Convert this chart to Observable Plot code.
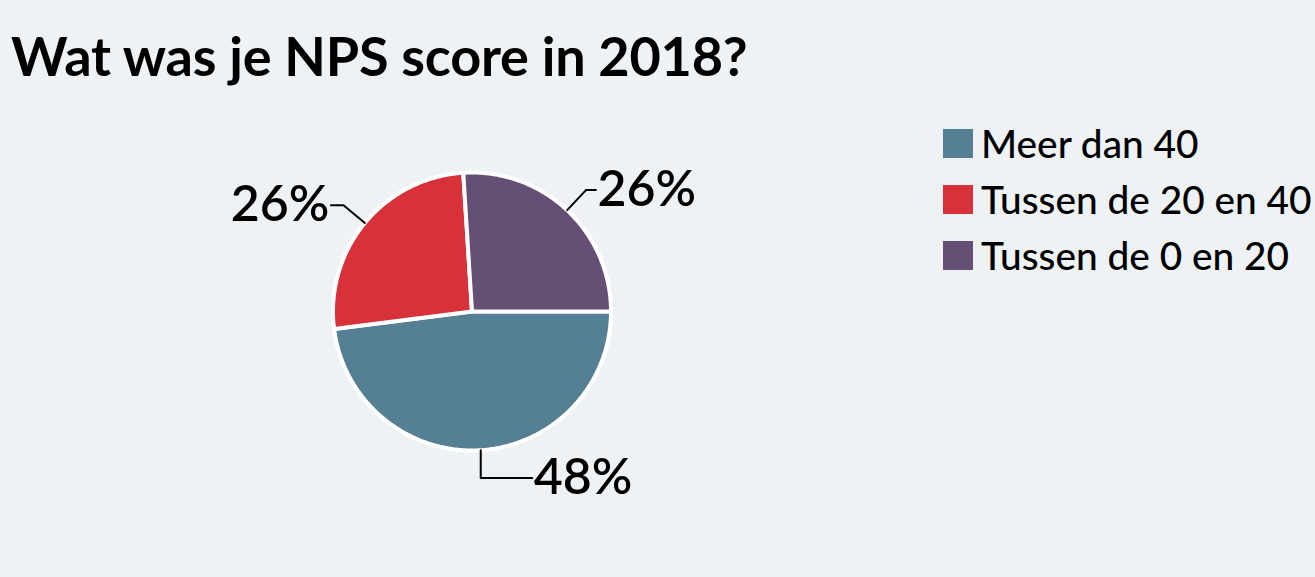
<!DOCTYPE html>
<html>
<head>
<meta charset="utf-8">
<script src="https://cdn.jsdelivr.net/npm/d3@7"></script>
<script src="https://cdn.jsdelivr.net/npm/@observablehq/plot@0.6"></script>
<style>
  html, body { margin: 0; padding: 0; background: #eef2f5; }
  body { width: 1315px; height: 577px; position: relative; overflow: hidden; font-family: Lato, sans-serif; }
  #title { position: absolute; left: 11px; top: 29px; margin: 0; font: bold 54px Lato, sans-serif; color: #000; line-height: 1; letter-spacing: -0.2px; }
  #chart { position: absolute; left: 0; top: 100px; }
  #legend { position: absolute; left: 943px; top: 115px; }
  .row { display: flex; align-items: center; height: 56px; font: 500 38.8px Lato, sans-serif; color: #000; }
  .sw { width: 30px; height: 29px; margin-right: 8px; flex: none; }
</style>
</head>
<body>
<h1 id="title">Wat was je NPS score in 2018?</h1>
<div id="chart"></div>
<div id="legend"></div>
<script>
// ---- data ----
const categories = ["Meer dan 40", "Tussen de 20 en 40", "Tussen de 0 en 20"];
const values = [48, 26, 26];
const colors = ["#557f92", "#d73139", "#654f75"];

// ---- layout (not data) ----
const cx = 471.5, cy = 211, r = 139;
const startAngle = Math.PI / 2;          // slices start at 3 o'clock, clockwise
const elbowR = 1.2;                      // elbow radius in unit-circle terms
const hLen = [0.37, 0.09, 0.07];        // horizontal leader length per label

const total = d3.sum(values);
let acc = startAngle;
const slices = categories.map((c, i) => {
  const a0 = acc, a1 = acc + values[i] / total * 2 * Math.PI;
  acc = a1;
  return {cat: c, value: values[i], a0, a1, mid: (a0 + a1) / 2, i};
});

// angle measured clockwise from top: x = sin(a), y = cos(a) (y up)
const pt = (a, rr) => [Math.sin(a) * rr, Math.cos(a) * rr];

const slicePts = [];
for (const s of slices) {
  slicePts.push({cat: s.cat, x: 0, y: 0});
  const n = Math.max(2, Math.ceil((s.a1 - s.a0) / 0.01));
  for (let k = 0; k <= n; k++) {
    const a = s.a0 + (s.a1 - s.a0) * k / n;
    const [x, y] = pt(a, 1);
    slicePts.push({cat: s.cat, x, y});
  }
}

const leaderPts = [];
const labels = [];
for (const s of slices) {
  const [x0, y0] = pt(s.mid, 1.0);
  let [x1, y1] = pt(s.mid, elbowR);
  const right = Math.sin(s.mid) >= 0;
  if (Math.abs(Math.sin(s.mid)) < 0.15) { x1 = x0; }  // near-bottom: vertical drop
  const x2 = x1 + (right ? 1 : -1) * hLen[s.i];
  leaderPts.push({k: s.cat, x: x0, y: y0}, {k: s.cat, x: x1, y: y1}, {k: s.cat, x: x2, y: y1});
  labels.push({x: x2 + (right ? 0.012 : -0.012), y: y1, text: s.value + "%", anchor: right ? "start" : "end"});
}

const plot = Plot.plot({
  width: 1315,
  height: 477,
  margin: 0,
  style: {background: "transparent", overflow: "visible"},
  x: {domain: [-1, 1], range: [cx - r, cx + r], axis: null},
  y: {domain: [-1, 1], range: [cy + r, cy - r], axis: null},
  color: {domain: categories, range: colors},
  marks: [
    Plot.line(slicePts, {x: "x", y: "y", z: "cat", fill: "cat", stroke: "white", strokeWidth: 4, curve: "linear-closed", strokeLinejoin: "round"}),
    Plot.line(leaderPts, {x: "x", y: "y", z: "k", stroke: "#000", strokeWidth: 2}),
    Plot.text(labels.filter(d => d.anchor === "start"), {x: "x", y: "y", text: "text", textAnchor: "start", lineAnchor: "middle", fontSize: 50, fontWeight: 600, fill: "#000", fontFamily: "Lato"}),
    Plot.text(labels.filter(d => d.anchor === "end"), {x: "x", y: "y", text: "text", textAnchor: "end", lineAnchor: "middle", fontSize: 50, fontWeight: 600, fill: "#000", fontFamily: "Lato"})
  ]
});
document.getElementById("chart").appendChild(plot);

const colorScale = plot.scale("color");
const legend = document.getElementById("legend");
for (const c of categories) {
  const row = document.createElement("div");
  row.className = "row";
  const sw = document.createElement("div");
  sw.className = "sw";
  sw.style.background = colorScale.apply(c);
  const t = document.createElement("span");
  t.textContent = c;
  row.appendChild(sw); row.appendChild(t);
  legend.appendChild(row);
}
</script>
</body>
</html>
